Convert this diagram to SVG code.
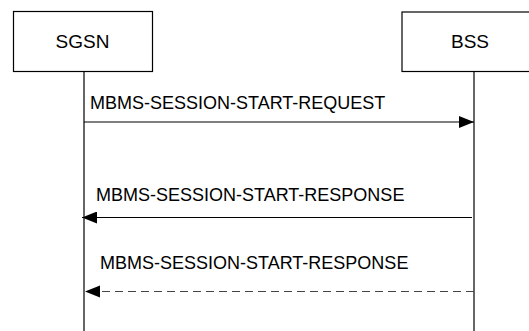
<svg xmlns="http://www.w3.org/2000/svg" width="529" height="331" viewBox="0 0 529 331">
<style>
.box{fill:#fff;stroke:#000;stroke-width:1.2}
.life{stroke:#000;stroke-width:1.2;fill:none}
.lbl{font-family:"Liberation Sans",Arial,sans-serif;font-size:18px;fill:#000}
.nlbl{font-family:"Liberation Sans",Arial,sans-serif;font-size:19px;fill:#000;text-anchor:middle}
.msg{stroke:#000;stroke-width:1.2;fill:none}
.dash{stroke:#444;stroke-width:1.2;fill:none;stroke-dasharray:8 5}
</style>
<defs>
<marker id="ah" markerWidth="15" markerHeight="12" refX="15" refY="6" orient="auto" markerUnits="userSpaceOnUse">
<path d="M0,0 L15,6 L0,12 Z" fill="#000"/>
</marker>
</defs>
<rect width="529" height="331" fill="#fff"/>
<g id="sgsn">
<rect class="box" x="13.5" y="11.5" width="139" height="60"/>
<text class="nlbl" x="82.5" y="48">SGSN</text>
<line class="life" x1="84" y1="71.5" x2="84" y2="331"/>
</g>
<g id="bss">
<rect class="box" x="402" y="12" width="160" height="59.5"/>
<text class="nlbl" x="470" y="48">BSS</text>
<line class="life" x1="474" y1="71.5" x2="474" y2="331"/>
</g>
<g id="connectors">
<line class="msg" x1="84" y1="122" x2="474" y2="122" marker-end="url(#ah)"/>
<text class="lbl" x="90" y="109">MBMS-SESSION-START-REQUEST</text>
<line class="msg" x1="472" y1="217.5" x2="82" y2="217.5" marker-end="url(#ah)"/>
<text class="lbl" x="96" y="200.5">MBMS-SESSION-START-RESPONSE</text>
<line class="dash" x1="474" y1="291.5" x2="100" y2="291.5"/>
<path d="M85,291.5 L100,285.5 L100,297.5 Z" fill="#000"/>
<text class="lbl" x="100" y="269">MBMS-SESSION-START-RESPONSE</text>
</g>
</svg>
